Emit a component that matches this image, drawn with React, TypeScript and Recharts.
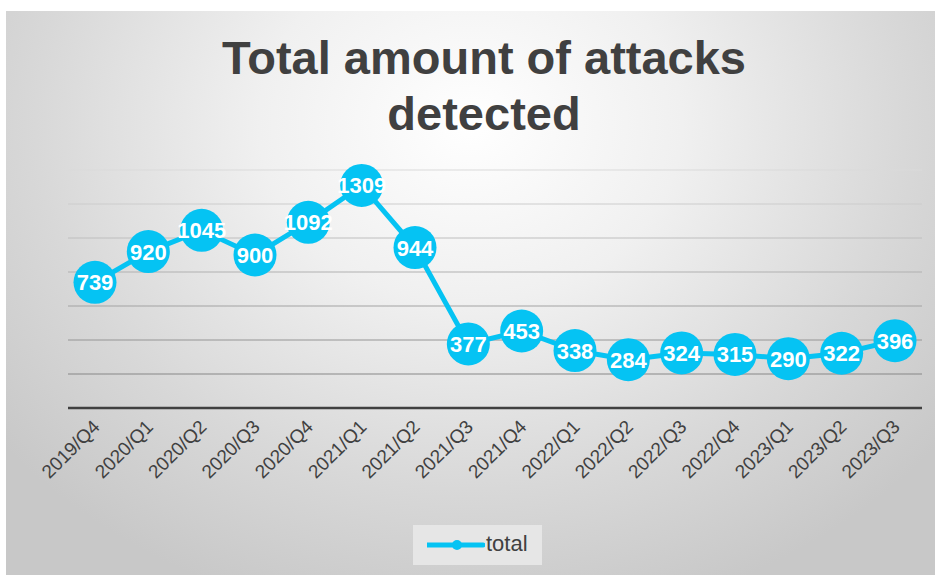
import { LineChart, Line, XAxis, YAxis, CartesianGrid, Legend, LabelList } from "recharts";

const quarters = [
  "2019/Q4", "2020/Q1", "2020/Q2", "2020/Q3", "2020/Q4", "2021/Q1", "2021/Q2", "2021/Q3",
  "2021/Q4", "2022/Q1", "2022/Q2", "2022/Q3", "2022/Q4", "2023/Q1", "2023/Q2", "2023/Q3",
];
const totals = [739, 920, 1045, 900, 1092, 1309, 944, 377, 453, 338, 284, 324, 315, 290, 322, 396];
const yTicks = [0, 200, 400, 600, 800, 1000, 1200, 1400];

const data = quarters.map((q, i) => ({ q, total: totals[i] }));

const CYAN = "#05C3F3";
const DARK = "#404040";
const FONT = "'Liberation Sans', Arial, sans-serif";

const QuarterTick = (props: any) => {
  const { x, y, payload } = props;
  return (
    <text
      transform={`translate(${x + 6}, ${y + 12}) rotate(-45)`}
      textAnchor="end"
      fontFamily={FONT}
      fontSize={19}
      fill={DARK}
    >
      {payload.value}
    </text>
  );
};

const ValueLabel = (props: any) => {
  const { x, y, value } = props;
  return (
    <text
      x={x}
      y={y}
      dy={8}
      textAnchor="middle"
      fontFamily={FONT}
      fontWeight="bold"
      fontSize={22}
      fill="#ffffff"
    >
      {value}
    </text>
  );
};

const LegendBox = () => (
  <div
    style={{
      width: 129,
      height: 40,
      background: "#e6e6e6",
      display: "flex",
      alignItems: "center",
      fontFamily: FONT,
      fontSize: 22,
      color: DARK,
    }}
  >
    <svg width={58} height={40} style={{ marginLeft: 14 }}>
      <line x1={0} y1={20} x2={56} y2={20} stroke={CYAN} strokeWidth={5} strokeLinecap="round" />
      <circle cx={30} cy={20} r={5} fill={CYAN} />
    </svg>
    <span style={{ marginLeft: 1, marginTop: -2 }}>total</span>
  </div>
);

export default function App() {
  return (
    <div style={{ position: "absolute", left: 0, top: 0, width: 935, height: 575, background: "#ffffff" }}>
      <div
        style={{
          position: "absolute",
          left: 6,
          top: 11,
          width: 929,
          height: 564,
          background: "radial-gradient(ellipse 65% 90% at 50% 20%, #ffffff 0%, #f0f0f0 35%, #d8d8d8 72%, #c8c8c8 100%)",
        }}
      >
        <LineChart width={929} height={564} data={data} margin={{ top: 159, right: 13, left: 62, bottom: 10 }}>
          <defs>
            <linearGradient id="gridGrad" gradientUnits="userSpaceOnUse" x1={0} y1={159} x2={0} y2={397}>
              <stop offset="0%" stopColor="#dadada" />
              <stop offset="100%" stopColor="#7a7a7a" />
            </linearGradient>
          </defs>
          <CartesianGrid vertical={false} stroke="url(#gridGrad)" strokeWidth={1.2} />
          <XAxis
            dataKey="q"
            interval={0}
            height={117}
            padding={{ left: 27, right: 27 }}
            tickLine={false}
            axisLine={{ stroke: DARK, strokeWidth: 2.5 }}
            tick={<QuarterTick />}
          />
          <YAxis hide domain={[0, 1400]} ticks={yTicks} />
          <Legend
            verticalAlign="bottom"
            content={<LegendBox />}
            wrapperStyle={{ left: 407, width: 129, bottom: 10 }}
          />
          <Line
            dataKey="total"
            name="total"
            stroke={CYAN}
            strokeWidth={5}
            dot={{ r: 21.5, fill: CYAN, stroke: CYAN, strokeWidth: 0 }}
            activeDot={false}
            isAnimationActive={false}
          >
            <LabelList dataKey="total" content={<ValueLabel />} />
          </Line>
        </LineChart>
        <div
          style={{
            position: "absolute",
            left: -6,
            top: 19,
            width: 968,
            textAlign: "center",
            fontFamily: FONT,
            fontWeight: "bold",
            fontSize: 47,
            lineHeight: "56px",
            color: DARK,
          }}
        >
          Total amount of attacks
          <br />
          detected
        </div>
      </div>
    </div>
  );
}
